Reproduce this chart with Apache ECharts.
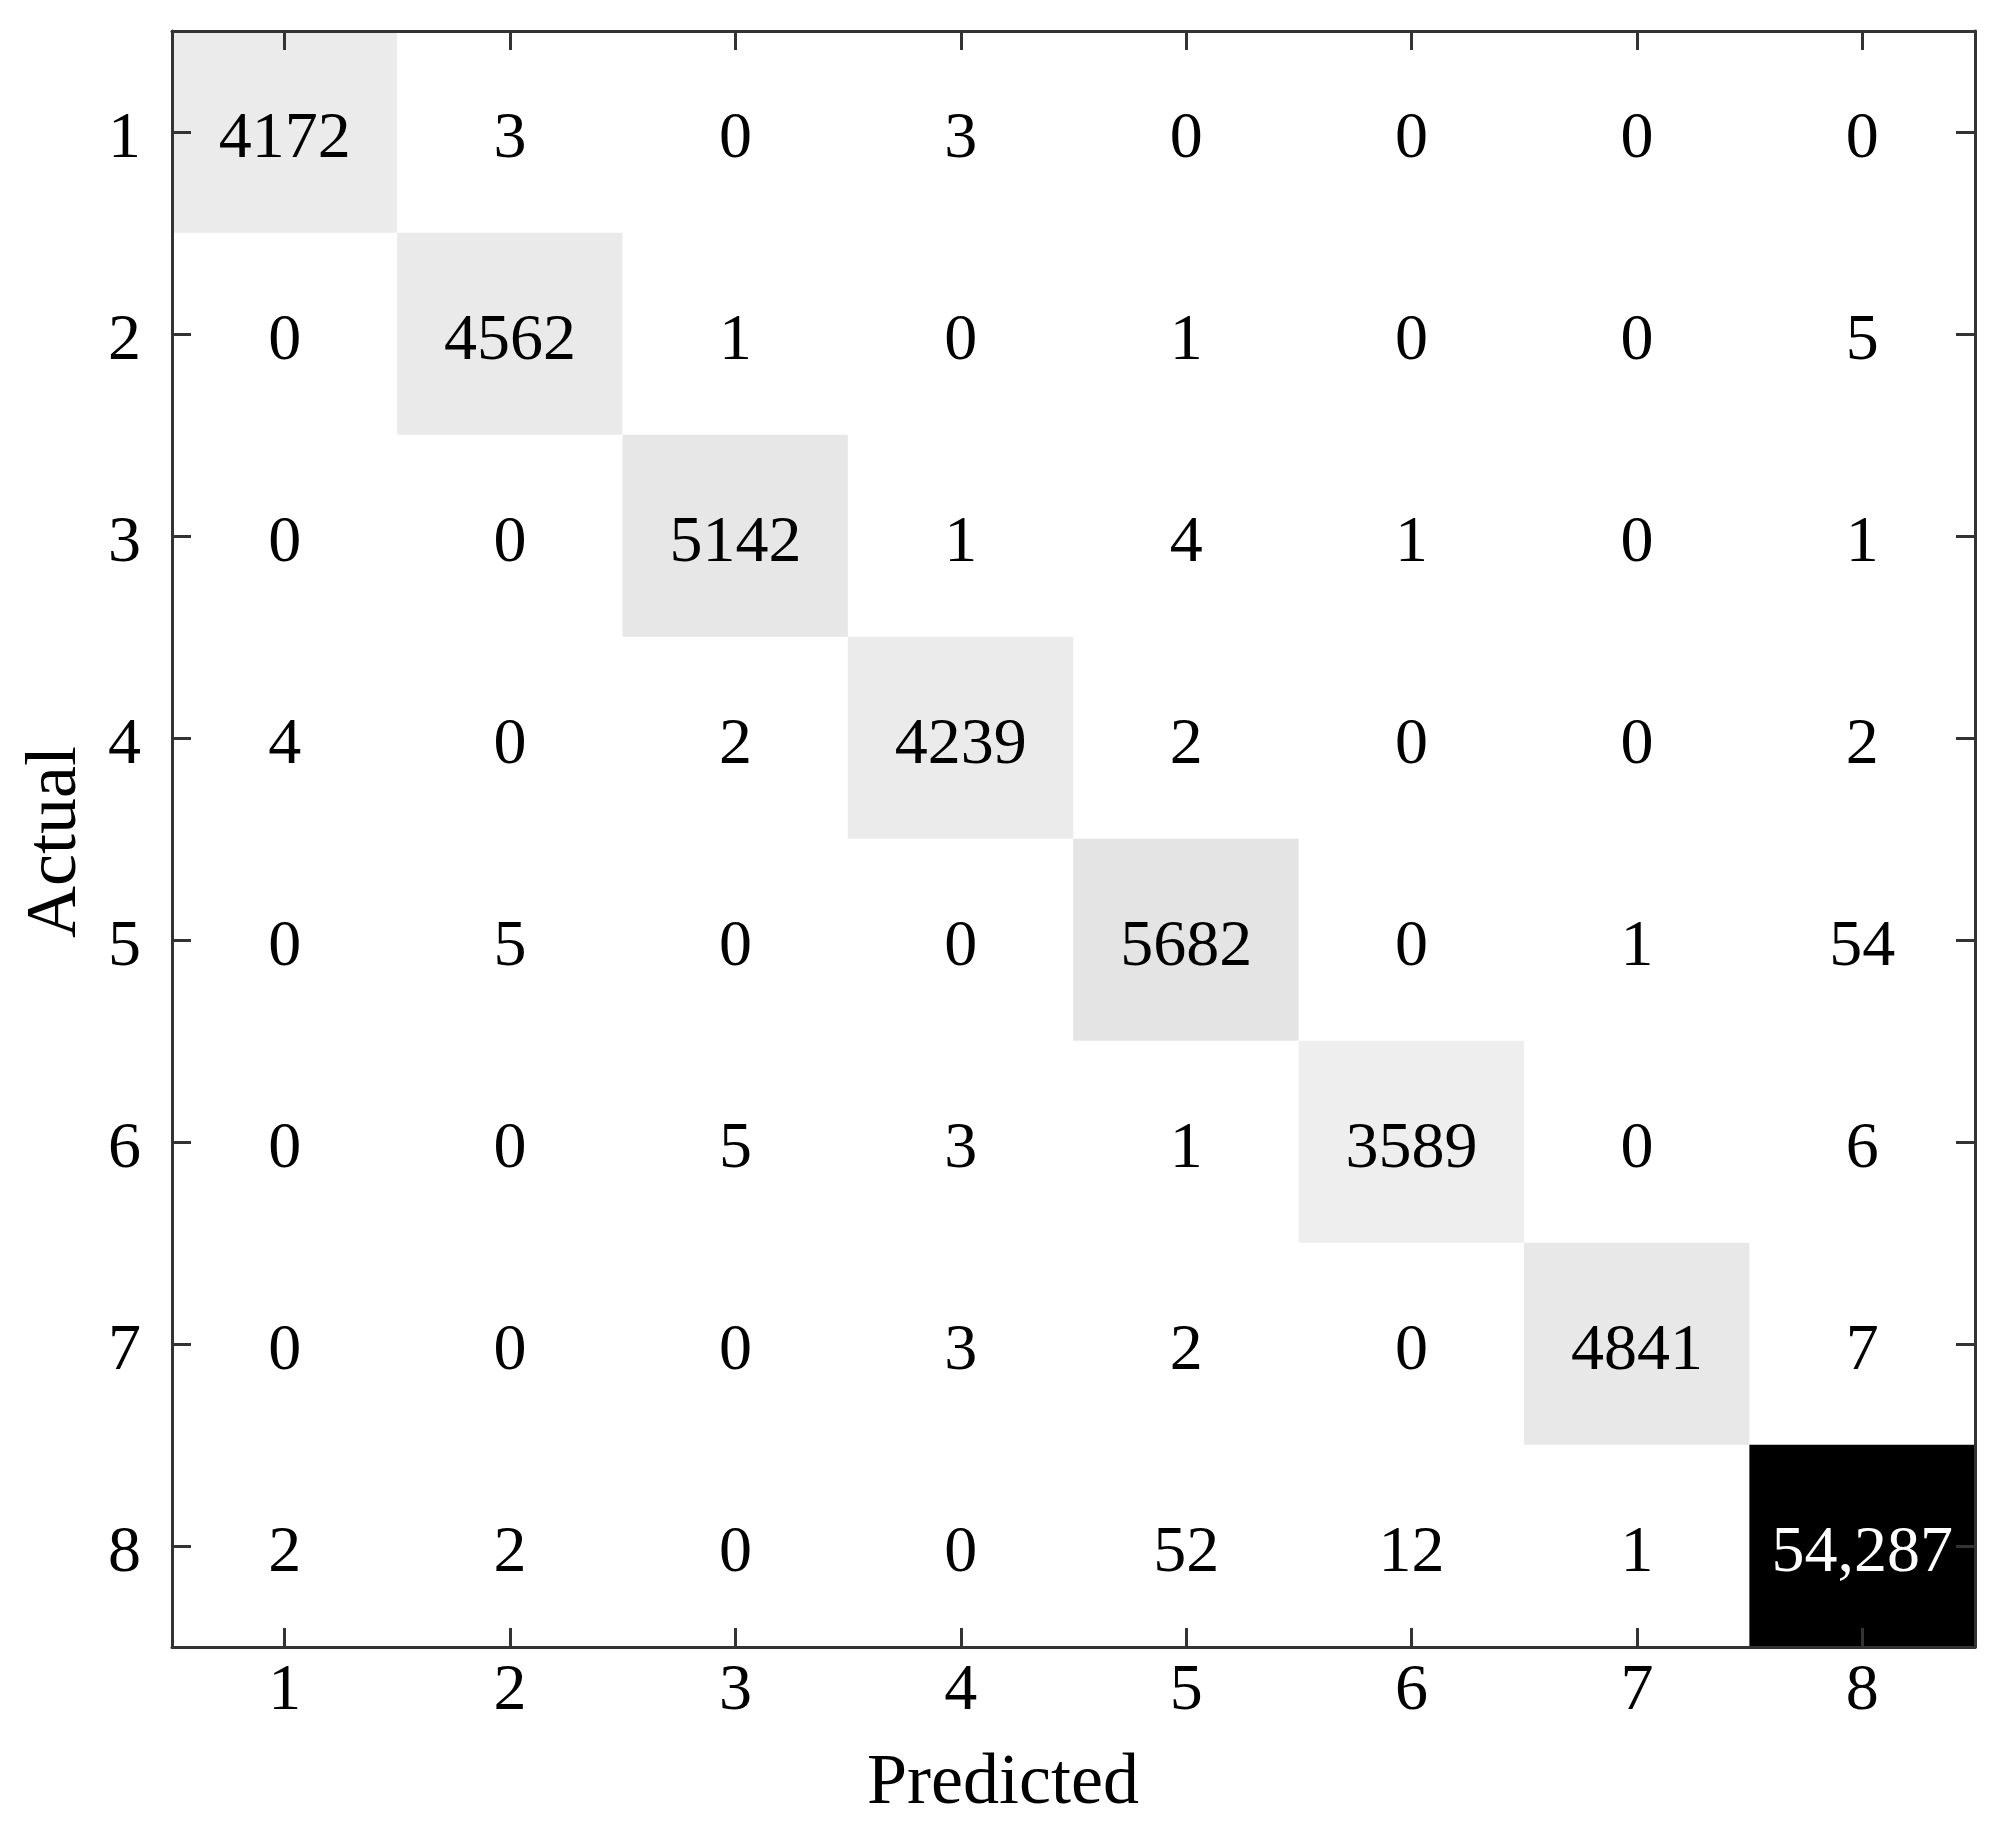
<!DOCTYPE html>
<html>
<head>
<meta charset="utf-8">
<script src="https://cdn.jsdelivr.net/npm/echarts@6/dist/echarts.min.js"></script>
<style>html,body{margin:0;padding:0;background:#fff}#c{width:1998px;height:1836px}</style>
</head>
<body>
<div id="c"></div>
<script>
const predictedLabels = ['1','2','3','4','5','6','7','8'];
const actualLabels = ['1','2','3','4','5','6','7','8'];
const row1 = [4172, 3, 0, 3, 0, 0, 0, 0];
const row2 = [0, 4562, 1, 0, 1, 0, 0, 5];
const row3 = [0, 0, 5142, 1, 4, 1, 0, 1];
const row4 = [4, 0, 2, 4239, 2, 0, 0, 2];
const row5 = [0, 5, 0, 0, 5682, 0, 1, 54];
const row6 = [0, 0, 5, 3, 1, 3589, 0, 6];
const row7 = [0, 0, 0, 3, 2, 0, 4841, 7];
const row8 = [2, 2, 0, 0, 52, 12, 1, 54287];
const matrix = [row1, row2, row3, row4, row5, row6, row7, row8];

const maxVal = Math.max(...matrix.flat());
const data = [];
matrix.forEach((row, r) => row.forEach((v, c) => {
  data.push({
    value: [c, r, v],
    label: { color: v > maxVal / 2 ? '#ffffff' : '#000000' }
  });
}));

const FONT = '"Liberation Serif", "Times New Roman", serif';
const axisLine = { show: true, onZero: false, lineStyle: { color: '#333', width: 3 } };
const tick = { show: true, inside: true, length: 19, alignWithLabel: true, lineStyle: { color: '#333', width: 3 } };

const chart = echarts.init(document.getElementById('c'), null, { renderer: 'canvas' });
chart.setOption({
  backgroundColor: '#fff',
  animation: false,
  grid: { left: 172, top: 31, width: 1803, height: 1616, containLabel: false },
  xAxis: [
    { type: 'category', data: predictedLabels, position: 'bottom', z: 10, axisLine, axisTick: tick,
      axisLabel: { fontFamily: FONT, fontSize: 66, color: '#000', margin: 12 }, splitLine: { show: false } },
    { type: 'category', data: predictedLabels, position: 'top', z: 10, axisLine, axisTick: tick,
      axisLabel: { show: false }, splitLine: { show: false } }
  ],
  yAxis: [
    { type: 'category', data: actualLabels, inverse: true, position: 'left', z: 10, axisLine, axisTick: tick,
      axisLabel: { fontFamily: FONT, fontSize: 66, color: '#000', margin: 31, verticalAlign: 'top', lineHeight: 16 }, splitLine: { show: false } },
    { type: 'category', data: actualLabels, inverse: true, position: 'right', z: 10, axisLine, axisTick: tick,
      axisLabel: { show: false }, splitLine: { show: false } }
  ],
  visualMap: {
    show: false, type: 'continuous', min: 0, max: maxVal, dimension: 2,
    inRange: { color: ['#ffffff', '#000000'] }
  },
  series: [{
    type: 'heatmap',
    z: 1,
    xAxisIndex: 0, yAxisIndex: 0,
    data: data,
    label: {
      show: true, fontFamily: FONT, fontSize: 66, offset: [0, 8],
      formatter: p => { const v = p.value[2]; return v >= 10000 ? v.toLocaleString('en-US') : String(v); }
    },
    itemStyle: { borderWidth: 0 },
    emphasis: { disabled: true }
  }],
  graphic: [
    { type: 'text', style: { x: 1003, y: 1748, text: 'Predicted', font: '72px ' + FONT, fill: '#000', align: 'center', verticalAlign: 'top' } },
    { type: 'text', x: 20, y: 842, rotation: Math.PI / 2, style: { text: 'Actual', font: '72px ' + FONT, fill: '#000', align: 'center', verticalAlign: 'top' } }
  ]
});
</script>
</body>
</html>
